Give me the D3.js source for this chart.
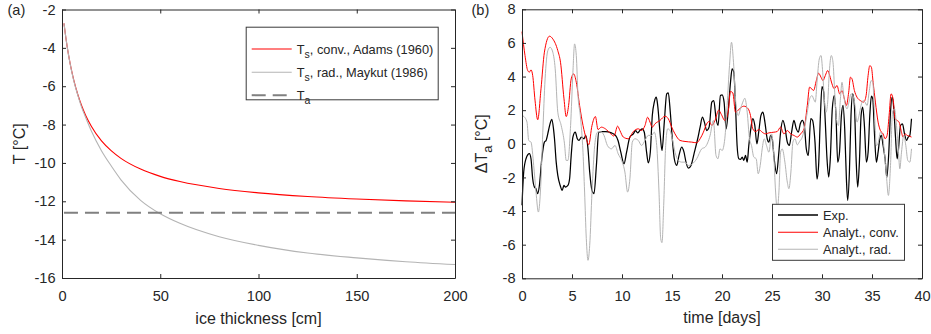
<!DOCTYPE html>
<html>
<head>
<meta charset="utf-8">
<script src="https://cdnjs.cloudflare.com/ajax/libs/d3/7.8.5/d3.min.js"></script>
<style>
body { margin: 0; background: #fff; }
svg text { font-family: "Liberation Sans", Arial, Helvetica, sans-serif; fill: #262626; }
</style>
</head>
<body>
<div id="chart"></div>
<script>
// ---- panel (a): surface temperature vs ice thickness ----
var thickness = [1, 2, 3, 4, 5, 6, 8, 10, 12, 15, 20, 25, 30, 40, 50, 60, 80, 100, 125, 150, 175, 200];
var tsConv = [-2.72, -3.50, -4.17, -4.74, -5.24, -5.68, -6.42, -7.02, -7.51, -8.10, -8.84, -9.36, -9.76, -10.32, -10.70, -10.97, -11.33, -11.56, -11.75, -11.88, -11.98, -12.05];
var tsRad = [-2.72, -3.50, -4.17, -4.75, -5.26, -5.72, -6.45, -7.10, -7.62, -8.35, -9.35, -10.15, -10.88, -11.95, -12.65, -13.15, -13.85, -14.30, -14.70, -14.95, -15.15, -15.30];
var airTemp = -12.6;
var xTicksA = [0, 50, 100, 150, 200];
var yTicksA = [-16, -14, -12, -10, -8, -6, -4, -2];

// ---- panel (b): temperature difference vs time [day, value] ----
var expSeries = [[0,-3.66],[0.17,-1.68],[0.4,-0.89],[0.74,-0.59],[0.9,-0.89],[1.07,-2.08],[1.24,-2.57],[1.4,-2.67],[1.57,-2.97],[1.74,-2.48],[1.98,-0.89],[2.24,0.1],[2.41,0.2],[2.65,0.79],[2.85,1.29],[2.98,1.45],[3.15,0.89],[3.25,0.3],[3.42,-1.09],[3.58,-1.88],[3.82,-2.48],[4.02,-2.77],[4.19,-2.48],[4.36,-2.57],[4.59,-2.48],[4.76,-2.08],[4.92,-0.69],[5.09,0.4],[5.33,0.69],[5.53,0.3],[5.7,0.2],[5.93,0.4],[6.2,0.3],[6.37,0.5],[6.6,-0.3],[6.77,-1.68],[7.0,-2.77],[7.2,-2.97],[7.44,-1.29],[7.67,0.69],[7.94,0.73],[8.34,0.73],[8.94,0.65],[9.35,0.5],[9.6,0.2],[9.88,-0.5],[10.2,-1.19],[10.46,-0.5],[10.79,0.4],[11.13,0.59],[11.36,0.79],[11.56,0.65],[11.79,0.79],[12.03,0.89],[12.23,0.69],[12.46,-0.5],[12.63,-1.13],[12.83,-0.5],[13.03,1.68],[13.23,2.48],[13.43,2.77],[13.57,2.28],[13.8,0.69],[14.0,-0.4],[14.23,1.29],[14.47,2.97],[14.63,3.03],[14.83,1.88],[15.03,0.3],[15.23,-0.89],[15.47,-1.29],[15.7,-0.69],[15.97,-0.2],[16.2,-0.5],[16.4,-1.09],[16.64,-1.45],[16.9,-1.29],[17.24,-0.5],[17.57,0.3],[17.81,0.99],[18.04,1.58],[18.24,1.29],[18.47,0.79],[18.71,0.99],[18.98,2.48],[19.18,2.57],[19.41,1.49],[19.61,1.09],[19.84,2.87],[20.01,2.91],[20.21,2.48],[20.41,0.89],[20.61,1.88],[20.85,3.66],[21.01,4.46],[21.18,4.26],[21.35,2.28],[21.51,-0.1],[21.68,-0.89],[21.85,-0.93],[22.02,-0.79],[22.18,-0.99],[22.35,-0.69],[22.52,-1.09],[22.68,-0.1],[22.88,0.89],[23.08,1.49],[23.28,1.09],[23.49,0],[23.69,0.79],[23.89,1.68],[24.09,1.88],[24.29,1.29],[24.52,0.3],[24.69,0.1],[24.86,0.5],[25.02,0.3],[25.22,-0.89],[25.46,-1.78],[25.66,-0.69],[25.86,0.69],[26.09,1.39],[26.29,0.99],[26.53,0.1],[26.73,-0.1],[26.96,0.69],[27.19,1.39],[27.43,0.89],[27.63,0.69],[27.83,1.19],[28.03,1.39],[28.23,1.09],[28.43,-0.3],[28.63,-0.69],[28.88,1.5],[29.05,1.4],[29.3,0.1],[29.5,-2.1],[29.66,-1.29],[29.83,1.49],[30.0,3.4],[30.17,3.07],[30.33,1.29],[30.5,-0.89],[30.67,-1.98],[30.83,-0.89],[31.03,2.08],[31.23,2.87],[31.4,1.68],[31.57,-1.09],[31.74,-0.59],[31.94,1.68],[32.1,2.28],[32.27,0.89],[32.44,-2.08],[32.57,-3.37],[32.74,-1.68],[32.9,1.68],[33.07,2.97],[33.24,2.28],[33.41,-0.89],[33.57,-2.57],[33.74,-1.09],[33.91,1.68],[34.07,2.18],[34.24,1.09],[34.44,-1.09],[34.61,-0.5],[34.78,1.68],[34.94,2.83],[35.08,2.67],[35.24,0.69],[35.44,-1.09],[35.61,-0.5],[35.78,0.3],[35.94,0.5],[36.11,-0.1],[36.31,-0.9],[36.48,-2.0],[36.68,-0.5],[36.85,1.88],[37.01,2.77],[37.18,2.08],[37.35,0.4],[37.51,-0.89],[37.65,-0.3],[37.85,1.09],[38.05,1.19],[38.25,0.59],[38.45,0.2],[38.62,0.4],[38.78,0.5],[38.95,1.49]];

var convSeries = [[0,6.67],[0.3,5.25],[0.57,4.36],[0.74,4.26],[0.9,4.4],[1.07,4.06],[1.3,2.6],[1.57,1.43],[1.9,3.27],[2.24,5.45],[2.75,6.4],[3.08,6.24],[3.58,5.54],[3.85,4.85],[4.2,2.67],[4.42,1.62],[4.66,2.28],[4.92,3.86],[5.16,4.16],[5.43,3.66],[5.76,2.28],[6.1,1.09],[6.43,0.3],[6.67,-0.06],[7.0,1.09],[7.34,1.62],[7.6,0.85],[7.94,0.99],[8.34,0.89],[8.88,0.59],[9.2,0.46],[9.56,1.05],[9.79,0.79],[10.13,0.4],[10.63,0.3],[11.13,0.73],[11.63,0.89],[11.96,0.79],[12.3,1.09],[12.56,1.58],[12.8,1.29],[13.03,0.99],[13.3,1.19],[13.8,1.39],[14.3,1.64],[14.63,1.49],[14.97,0.99],[15.3,0.59],[15.8,0.2],[16.3,0.14],[16.97,0.1],[17.47,0.06],[17.81,0.3],[18.14,0.69],[18.47,1.19],[18.71,1.33],[18.98,1.09],[19.31,1.4],[19.66,2.0],[19.93,1.75],[20.28,1.39],[20.61,1.88],[20.85,3.11],[21.08,3.03],[21.35,1.88],[21.68,2.04],[22.18,2.24],[22.62,2.08],[22.85,1.68],[23.08,0.89],[23.35,0.73],[23.69,0.85],[24.02,0.69],[24.35,0.59],[24.69,0.65],[25.19,0.69],[25.52,0.73],[25.86,0.99],[26.19,0.59],[26.53,0.79],[26.86,0.59],[27.19,0.5],[27.53,0.4],[27.86,0.59],[28.2,0.89],[28.53,2.28],[28.76,3.37],[29.16,3.17],[29.43,3.76],[29.66,4.2],[29.9,3.96],[30.1,3.76],[30.33,4.06],[30.57,4.36],[30.77,4.06],[31.0,3.56],[31.23,3.27],[31.5,3.47],[31.77,2.97],[32.0,3.17],[32.24,2.67],[32.44,2.28],[32.67,3.07],[32.84,3.96],[33.0,3.86],[33.24,3.17],[33.5,2.77],[33.84,2.57],[34.17,2.48],[34.41,2.87],[34.61,4.06],[34.78,4.65],[34.94,4.55],[35.11,3.66],[35.34,2.48],[35.61,1.29],[35.84,0.79],[36.11,0.59],[36.31,0.3],[36.51,0.5],[36.71,1.68],[36.91,2.97],[37.11,2.67],[37.31,1.49],[37.51,1.39],[37.71,1.29],[37.91,0.79],[38.11,0.4],[38.31,0.59],[38.52,0.5],[38.72,0.46],[38.95,0.4]];

var radSeries = [[0,1.68],[0.2,1.62],[0.5,1.29],[0.67,0.2],[0.9,0.1],[1.17,-1.29],[1.4,-2.87],[1.64,-4.06],[1.84,-2.87],[2.08,0.69],[2.31,3.86],[2.58,5.54],[2.81,5.74],[3.08,5.45],[3.32,4.46],[3.58,1.88],[3.92,1.09],[4.25,0],[4.42,-0.99],[4.59,-0.99],[4.86,1.09],[5.09,4.26],[5.26,5.94],[5.43,5.25],[5.6,2.87],[5.83,1.68],[6.1,-0.5],[6.26,-2.87],[6.43,-5.64],[6.6,-6.93],[6.77,-6.04],[7.0,-2.87],[7.27,-0.1],[7.54,0.69],[7.87,0.73],[8.2,0.5],[8.54,-0.1],[8.94,-0.3],[9.3,-0.1],[9.62,-0.6],[9.96,-0.99],[10.29,-1.68],[10.56,-2.87],[10.79,-2.08],[11.03,0.1],[11.29,0.3],[11.63,0.2],[11.96,-0.1],[12.3,0.2],[12.63,0.5],[12.96,0.5],[13.23,0.69],[13.47,-0.1],[13.7,-2.87],[13.87,-5.64],[14.0,-5.88],[14.17,-3.66],[14.37,-0.1],[14.57,0.89],[14.8,0.79],[15.03,0.3],[15.3,-0.5],[15.64,-0.99],[15.97,-1.09],[16.3,-1.09],[16.64,-1.29],[17.04,-1.19],[17.47,-0.89],[17.97,-0.3],[18.31,-0.2],[18.81,0.5],[19.14,1.39],[19.4,-0.69],[19.6,-0.89],[19.8,-0.3],[20.01,-0.4],[20.28,0.3],[20.51,2.28],[20.75,4.65],[20.95,6.04],[21.15,4.85],[21.35,2.67],[21.62,1.68],[21.85,2.08],[22.08,2.48],[22.28,2.71],[22.52,1.88],[22.75,0.3],[22.95,-0.1],[23.18,-0.79],[23.42,-0.89],[23.62,-1.78],[23.82,-1.29],[24.02,-0.3],[24.22,0.3],[24.45,-0.1],[24.69,-0.5],[24.96,0.59],[25.16,-0.5],[25.36,-2.87],[25.52,-3.9],[25.69,-2.87],[25.86,-0.5],[26.02,-0.3],[26.29,-1.09],[26.53,-2.28],[26.69,-2.67],[26.89,-1.68],[27.09,0.1],[27.29,0.3],[27.53,-0.06],[27.76,0.14],[28.03,0.4],[28.3,1.09],[28.53,1.88],[28.76,2.67],[29.0,2.87],[29.16,2.67],[29.33,2.48],[29.5,3.66],[29.73,5.05],[29.9,5.25],[30.07,4.26],[30.23,2.67],[30.4,1.88],[30.57,2.48],[30.73,4.26],[30.93,5.25],[31.1,4.85],[31.27,3.07],[31.44,1.49],[31.64,1.09],[31.84,2.67],[32.0,3.66],[32.17,2.87],[32.34,2.28],[32.5,2.08],[32.7,2.48],[32.9,2.97],[33.1,2.87],[33.3,2.28],[33.5,1.29],[33.7,1.68],[33.9,2.28],[34.1,2.57],[34.3,2.48],[34.51,2.28],[34.71,3.07],[34.91,3.76],[35.08,3.66],[35.24,1.88],[35.44,-0.1],[35.64,0.1],[35.84,0.69],[36.04,0.5],[36.24,-0.5],[36.44,-1.88],[36.64,-3.07],[36.85,-1.29],[37.05,1.88],[37.25,2.08],[37.45,1.09],[37.65,-0.5],[37.78,-1.49],[37.95,-0.5],[38.18,0.5],[38.38,-0.1],[38.58,-0.99],[38.78,-1.09],[38.95,-0.3]];
var xTicksB = [0, 5, 10, 15, 20, 25, 30, 35, 40];
var yTicksB = [-8, -6, -4, -2, 0, 2, 4, 6, 8];

var svg = d3.select("#chart").append("svg")
    .attr("width", 931)
    .attr("height", 334);

var tickFont = "14.6px";

// draw a boxed axes with inward ticks on all four sides
function drawBox(g, x, y, xTicks, yTicks) {
    var w = x.range()[1], h = y.range()[0];
    var fmt = function(d) { return String(d); };
    var bottom = g.append("g").attr("transform", "translate(0," + h + ")")
        .call(d3.axisBottom(x).tickValues(xTicks).tickFormat(fmt).tickSizeInner(-4).tickSizeOuter(0).tickPadding(12.5));
    var top = g.append("g")
        .call(d3.axisTop(x).tickValues(xTicks).tickFormat("").tickSizeInner(-4).tickSizeOuter(0));
    var left = g.append("g")
        .call(d3.axisLeft(y).tickValues(yTicks).tickFormat(fmt).tickSizeInner(-4).tickSizeOuter(0).tickPadding(6.5));
    var right = g.append("g").attr("transform", "translate(" + w + ",0)")
        .call(d3.axisRight(y).tickValues(yTicks).tickFormat("").tickSizeInner(-4).tickSizeOuter(0));
    [bottom, top, left, right].forEach(function(a) {
        a.selectAll("path, line").attr("stroke", "#262626");
        a.selectAll("text").style("font-size", tickFont).style("fill", "#262626");
    });
}

// legend box with line samples
function drawLegend(g, x0, y0, w, h, items) {
    var lg = g.append("g").attr("transform", "translate(" + x0 + "," + y0 + ")");
    lg.append("rect")
        .attr("x", 0.5).attr("y", 0.5)
        .attr("width", w).attr("height", h)
        .attr("fill", "#fff")
        .attr("stroke", "#3a3a3a")
        .attr("stroke-width", 1);
    items.forEach(function(it) {
        lg.append("line")
            .attr("x1", it.lx1).attr("x2", it.lx2)
            .attr("y1", it.ly).attr("y2", it.ly)
            .attr("stroke", it.color)
            .attr("stroke-width", it.width)
            .attr("stroke-dasharray", it.dash || null);
        var t = lg.append("text")
            .attr("x", it.tx).attr("y", it.ly + 4.6)
            .style("font-size", "12.8px");
        if (it.sub) {
            t.append("tspan").text(it.main);
            t.append("tspan").attr("dy", 4.5).style("font-size", "10.5px").text(it.sub);
            if (it.rest) t.append("tspan").attr("dy", -4.5).text(it.rest);
        } else {
            t.text(it.main);
        }
    });
}

// ---------- panel (a) ----------
var ga = svg.append("g").attr("transform", "translate(62,9.5)");
var wA = 393, hA = 268.5;
var xA = d3.scaleLinear().domain([0, 200]).range([0, wA]);
var yA = d3.scaleLinear().domain([-16, -2]).range([hA, 0]);

var lineA = d3.line()
    .x(function(d) { return xA(d[0]); })
    .y(function(d) { return yA(d[1]); })
    .curve(d3.curveMonotoneX);

ga.append("path")
    .datum(thickness.map(function(h, i) { return [h, tsConv[i]]; }))
    .attr("d", lineA)
    .attr("fill", "none")
    .attr("stroke", "#ff0000")
    .attr("stroke-width", 1.1);

ga.append("path")
    .datum(thickness.map(function(h, i) { return [h, tsRad[i]]; }))
    .attr("d", lineA)
    .attr("fill", "none")
    .attr("stroke", "#b4b4b4")
    .attr("stroke-width", 1.1);

ga.append("line")
    .attr("x1", xA(1)).attr("x2", xA(200))
    .attr("y1", yA(airTemp)).attr("y2", yA(airTemp))
    .attr("stroke", "#808080")
    .attr("stroke-width", 2)
    .attr("stroke-dasharray", "14,7");

drawBox(ga, xA, yA, xTicksA, yTicksA);

drawLegend(ga, 183.7, 17.2, 192, 72.6, [
    {lx1: 6, lx2: 46, ly: 22.3, color: "#ff0000", width: 1.2, tx: 51, main: "T", sub: "s", rest: ", conv., Adams (1960)"},
    {lx1: 6, lx2: 46, ly: 45.5, color: "#b4b4b4", width: 1.1, tx: 51, main: "T", sub: "s", rest: ", rad., Maykut (1986)"},
    {lx1: 6, lx2: 43, ly: 68.5, color: "#808080", width: 2, dash: "14,7", tx: 51, main: "T", sub: "a"}
]);

ga.append("text")
    .attr("x", wA / 2).attr("y", 314)
    .attr("text-anchor", "middle")
    .style("font-size", "16px")
    .text("ice thickness [cm]");

ga.append("text")
    .attr("transform", "translate(-37," + (hA / 2) + ") rotate(-90)")
    .attr("text-anchor", "middle")
    .style("font-size", "16px")
    .text("T [°C]");

svg.append("text")
    .attr("x", 7.5).attr("y", 14.5)
    .style("font-size", "14.6px")
    .text("(a)");

// ---------- panel (b) ----------
var gb = svg.append("g").attr("transform", "translate(522,9.3)");
var wB = 400, hB = 269;
var xB = d3.scaleLinear().domain([0, 40]).range([0, wB]);
var yB = d3.scaleLinear().domain([-8, 8]).range([hB, 0]);

var lineB = d3.line()
    .x(function(d) { return xB(d[0]); })
    .y(function(d) { return yB(d[1]); })
    .curve(d3.curveMonotoneX);

gb.append("path").datum(expSeries)
    .attr("d", lineB).attr("fill", "none")
    .attr("stroke", "#000").attr("stroke-width", 1.25);

gb.append("path").datum(convSeries)
    .attr("d", lineB).attr("fill", "none")
    .attr("stroke", "#ff0000").attr("stroke-width", 1);

gb.append("path").datum(radSeries)
    .attr("d", lineB).attr("fill", "none")
    .attr("stroke", "#b4b4b4").attr("stroke-width", 1);

drawBox(gb, xB, yB, xTicksB, yTicksB);

drawLegend(gb, 250, 194.5, 132, 56, [
    {lx1: 6, lx2: 46, ly: 11.2, color: "#000", width: 1.3, tx: 51, main: "Exp."},
    {lx1: 6, lx2: 46, ly: 28.5, color: "#ff0000", width: 1.1, tx: 51, main: "Analyt., conv."},
    {lx1: 6, lx2: 46, ly: 45.5, color: "#b4b4b4", width: 1.1, tx: 51, main: "Analyt., rad."}
]);

gb.append("text")
    .attr("x", wB / 2).attr("y", 314)
    .attr("text-anchor", "middle")
    .style("font-size", "16px")
    .text("time [days]");

var yl = gb.append("text")
    .attr("transform", "translate(-35," + (hB / 2) + ") rotate(-90)")
    .attr("text-anchor", "middle")
    .style("font-size", "16px");
yl.append("tspan").text("\u0394T");
yl.append("tspan").attr("dy", 5).style("font-size", "13px").text("a");
yl.append("tspan").attr("dy", -5).text(" [°C]");

svg.append("text")
    .attr("x", 471.5).attr("y", 14.5)
    .style("font-size", "14.6px")
    .text("(b)");
</script>
</body>
</html>
